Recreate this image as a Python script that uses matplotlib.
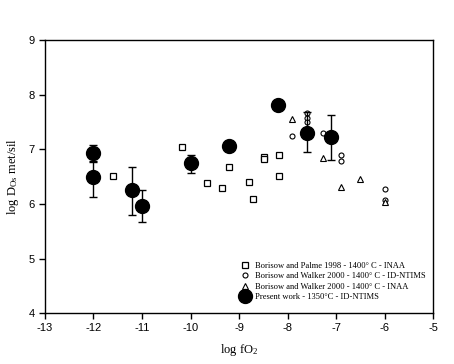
import matplotlib
matplotlib.use("Agg")
import matplotlib.pyplot as plt
from matplotlib.lines import Line2D

# Borisow and Palme 1998 - INAA (open squares)
bp_x = [-11.6, -10.17, -9.65, -9.35, -9.2, -8.8, -8.72, -8.48, -8.48, -8.18, -8.18]
bp_y = [6.51, 7.04, 6.38, 6.29, 6.68, 6.40, 6.10, 6.87, 6.83, 6.90, 6.51]

# Borisow and Walker 2000 - ID-NTIMS (open circles)
bw_id_x = [-7.9, -7.6, -7.6, -7.6, -7.27, -6.9, -6.9, -6.0, -6.0]
bw_id_y = [7.25, 7.67, 7.58, 7.50, 7.31, 6.90, 6.78, 6.28, 6.08]

# Borisow and Walker 2000 - INAA (open triangles)
bw_inaa_x = [-7.9, -7.27, -6.9, -6.5, -6.0]
bw_inaa_y = [7.56, 6.84, 6.31, 6.46, 6.04]

# present work (filled circles with error bars)
pw_x = [-12.0, -12.0, -11.2, -11.0, -10.0, -9.2, -8.2, -7.6, -7.1]
pw_y = [6.94, 6.49, 6.25, 5.97, 6.75, 7.07, 7.81, 7.30, 7.23]
pw_lo = [6.78, 6.13, 5.80, 5.67, 6.57, 7.07, 7.81, 6.95, 6.81]
pw_hi = [7.08, 6.77, 6.68, 6.26, 6.90, 7.07, 7.81, 7.69, 7.64]

labels = [
    "Borisow and Palme 1998 - 1400\u00b0 C - INAA",
    "Borisow and Walker 2000 - 1400\u00b0 C - ID-NTIMS",
    "Borisow and Walker 2000 - 1400\u00b0 C - INAA",
    "Present work - 1350\u00b0C - ID-NTIMS",
]

plt.rcParams['font.family'] = 'Liberation Sans'
plt.rcParams['axes.unicode_minus'] = False
plt.rcParams['mathtext.fontset'] = 'custom'
plt.rcParams['mathtext.rm'] = 'Liberation Serif'
plt.rcParams['mathtext.it'] = 'Liberation Serif'

fig = plt.figure(figsize=(4.54, 3.64), dpi=100)
ax = fig.add_axes([0.099, 0.140, 0.855, 0.749])

ax.plot(bp_x, bp_y, 's', ms=4.5, mfc='white', mec='black', mew=0.9, ls='none')
ax.plot(bw_id_x, bw_id_y, 'o', ms=3.6, mfc='white', mec='black', mew=0.8, ls='none')
ax.plot(bw_inaa_x, bw_inaa_y, '^', ms=4.5, mfc='white', mec='black', mew=0.8, ls='none')

yerr = [[y - lo for y, lo in zip(pw_y, pw_lo)], [hi - y for y, hi in zip(pw_y, pw_hi)]]
ax.errorbar(pw_x, pw_y, yerr=yerr, fmt='none', ecolor='black', elinewidth=1,
            capsize=3, capthick=1)
ax.plot(pw_x, pw_y, 'o', ms=10, color='black', ls='none')

ax.set_xlim(-13, -5)
ax.set_ylim(4, 9)
ax.set_xticks(range(-13, -4))
ax.set_yticks(range(4, 10))
ax.tick_params(direction='out', length=4, width=1, labelsize=8,
               top=False, right=False)
for s in ax.spines.values():
    s.set_linewidth(1)

ax.set_xlabel("log fO$_\\mathrm{2}$", family='Liberation Serif', fontsize=9, labelpad=6)
ax.set_ylabel("log D$_\\mathrm{Os}$ met/sil", family='Liberation Serif', fontsize=9, labelpad=5)

handles = [
    Line2D([], [], marker='s', ms=4.5, mfc='white', mec='black', mew=0.9, ls='none'),
    Line2D([], [], marker='o', ms=3.6, mfc='white', mec='black', mew=0.8, ls='none'),
    Line2D([], [], marker='^', ms=4.5, mfc='white', mec='black', mew=0.8, ls='none'),
    Line2D([], [], marker='o', ms=10, color='black', ls='none'),
]
ax.legend(handles, labels, loc='lower right', bbox_to_anchor=(1.0, 0.015),
          frameon=False, prop={'family': 'Liberation Serif', 'size': 6.1},
          handletextpad=0.6, labelspacing=0.3, handlelength=1.2)

fig.savefig("out.png", dpi=100)
